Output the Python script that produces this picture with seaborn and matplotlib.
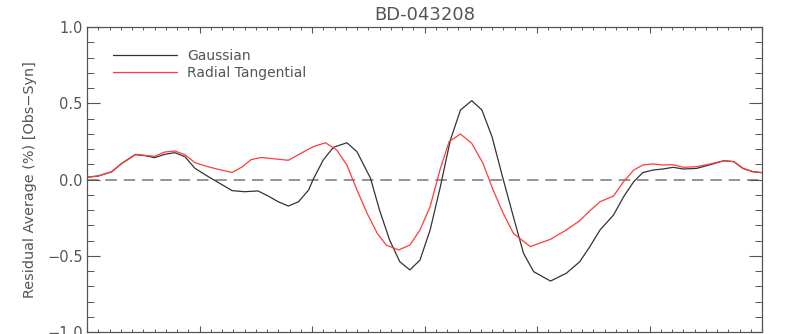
import numpy as np
import pandas as pd
import matplotlib
matplotlib.use("Agg")
import matplotlib.pyplot as plt
from matplotlib.ticker import MultipleLocator, FuncFormatter
import seaborn as sns

# residual averages (x in arbitrary units, 0..6)
gauss_x = [0.00, 0.10, 0.22, 0.31, 0.43, 0.52, 0.60, 0.69, 0.78, 0.87, 0.96, 1.08,
           1.17, 1.29, 1.40, 1.52, 1.61, 1.70, 1.79, 1.88, 1.97, 2.01, 2.10, 2.19,
           2.31, 2.40, 2.52, 2.60, 2.69, 2.78, 2.87, 2.96, 3.05, 3.14, 3.23, 3.32,
           3.42, 3.51, 3.60, 3.70, 3.79, 3.88, 3.97, 4.12, 4.26, 4.38, 4.47, 4.56,
           4.68, 4.77, 4.86, 4.94, 5.03, 5.12, 5.21, 5.30, 5.42, 5.54, 5.66, 5.75,
           5.83, 5.92, 6.00]
gauss_y = [0.015, 0.023, 0.051, 0.106, 0.163, 0.156, 0.143, 0.165, 0.176, 0.150, 0.073, 0.018,
           -0.021, -0.073, -0.080, -0.075, -0.108, -0.146, -0.174, -0.146, -0.069, 0.0, 0.128, 0.211,
           0.241, 0.182, 0.008, -0.20, -0.397, -0.539, -0.593, -0.528, -0.331, -0.05, 0.259, 0.456,
           0.517, 0.456, 0.281, 0.0, -0.244, -0.484, -0.604, -0.666, -0.615, -0.539, -0.44, -0.331,
           -0.233, -0.113, -0.014, 0.045, 0.062, 0.069, 0.080, 0.069, 0.073, 0.097, 0.123, 0.117,
           0.073, 0.051, 0.045]

radial_x = [0.00, 0.10, 0.22, 0.31, 0.43, 0.52, 0.60, 0.69, 0.78, 0.87, 0.96, 1.08,
            1.17, 1.29, 1.38, 1.46, 1.55, 1.67, 1.79, 1.89, 2.01, 2.12, 2.22, 2.31,
            2.40, 2.49, 2.58, 2.66, 2.77, 2.87, 2.96, 3.05, 3.14, 3.22, 3.32, 3.42,
            3.52, 3.61, 3.70, 3.79, 3.94, 4.12, 4.26, 4.38, 4.47, 4.56, 4.68, 4.77,
            4.86, 4.94, 5.03, 5.12, 5.21, 5.30, 5.42, 5.54, 5.66, 5.75, 5.83, 5.92,
            6.00]
radial_y = [0.015, 0.023, 0.051, 0.106, 0.165, 0.158, 0.152, 0.180, 0.187, 0.163, 0.110, 0.083,
            0.066, 0.046, 0.083, 0.131, 0.144, 0.135, 0.126, 0.167, 0.215, 0.241, 0.193, 0.095,
            -0.069, -0.222, -0.353, -0.430, -0.462, -0.430, -0.331, -0.178, 0.07, 0.25, 0.298, 0.237,
            0.106, -0.069, -0.222, -0.353, -0.440, -0.392, -0.331, -0.270, -0.205, -0.146, -0.108, -0.014,
            0.062, 0.095, 0.102, 0.095, 0.097, 0.080, 0.084, 0.102, 0.123, 0.117, 0.073, 0.051,
            0.045]

labels = ["Gaussian", "Radial Tangential"]
title = "BD-043208"

df = pd.concat([
    pd.DataFrame({"x": gauss_x, "y": gauss_y, "model": labels[0]}),
    pd.DataFrame({"x": radial_x, "y": radial_y, "model": labels[1]}),
])

sns.set_theme(style="white")
plt.rcParams["font.family"] = ["DejaVu Sans"]
grey = "#555555"

fig = plt.figure(figsize=(7.86, 3.34), dpi=100)
ax = fig.add_axes([87 / 786, 2 / 334, 675 / 786, 305 / 334])

sns.lineplot(data=df, x="x", y="y", hue="model", sort=False,
             palette={labels[0]: "#333333", labels[1]: "#ff3b3b"},
             linewidth=0.9, ax=ax)
ax.axhline(0, color="#777777", lw=1.1, dashes=(7.5, 4.5), zorder=0)

ax.set_xlim(0, 6)
ax.set_ylim(-1, 1)
ax.xaxis.set_major_locator(MultipleLocator(1))
ax.xaxis.set_minor_locator(MultipleLocator(0.1))
ax.yaxis.set_major_locator(MultipleLocator(0.5))
ax.yaxis.set_minor_locator(MultipleLocator(0.1))
ax.tick_params(axis="x", which="major", direction="in", length=4.3, top=True, bottom=True,
               labelbottom=False, color=grey, width=0.8)
ax.tick_params(axis="x", which="minor", direction="in", length=2.2, top=True, bottom=True,
               color=grey, width=0.7)
ax.tick_params(axis="y", which="major", direction="in", length=9.4, left=True, right=True,
               labelsize=10.5, labelcolor=grey, color=grey, width=0.8, pad=3)
ax.tick_params(axis="y", which="minor", direction="in", length=4.7, left=True, right=True,
               color=grey, width=0.7)
ax.yaxis.set_major_formatter(FuncFormatter(lambda v, p: f"{v:.1f}".replace("-", "\u2212")))
for s in ax.spines.values():
    s.set_color(grey)
    s.set_linewidth(0.9)

ax.set_xlabel("")
ax.set_ylabel("Residual Average (%) [Obs\u2212Syn]", fontsize=10.4, color=grey, labelpad=7)
ax.set_title(title, fontsize=13, color=grey, pad=5)

ax.legend(loc="upper left", bbox_to_anchor=(0.0385, 0.928), frameon=False,
          handlelength=4.6, handletextpad=0.75, labelspacing=0.2,
          borderpad=0, borderaxespad=0, fontsize=10,
          labelcolor=grey)

fig.savefig("out.png", dpi=100)
